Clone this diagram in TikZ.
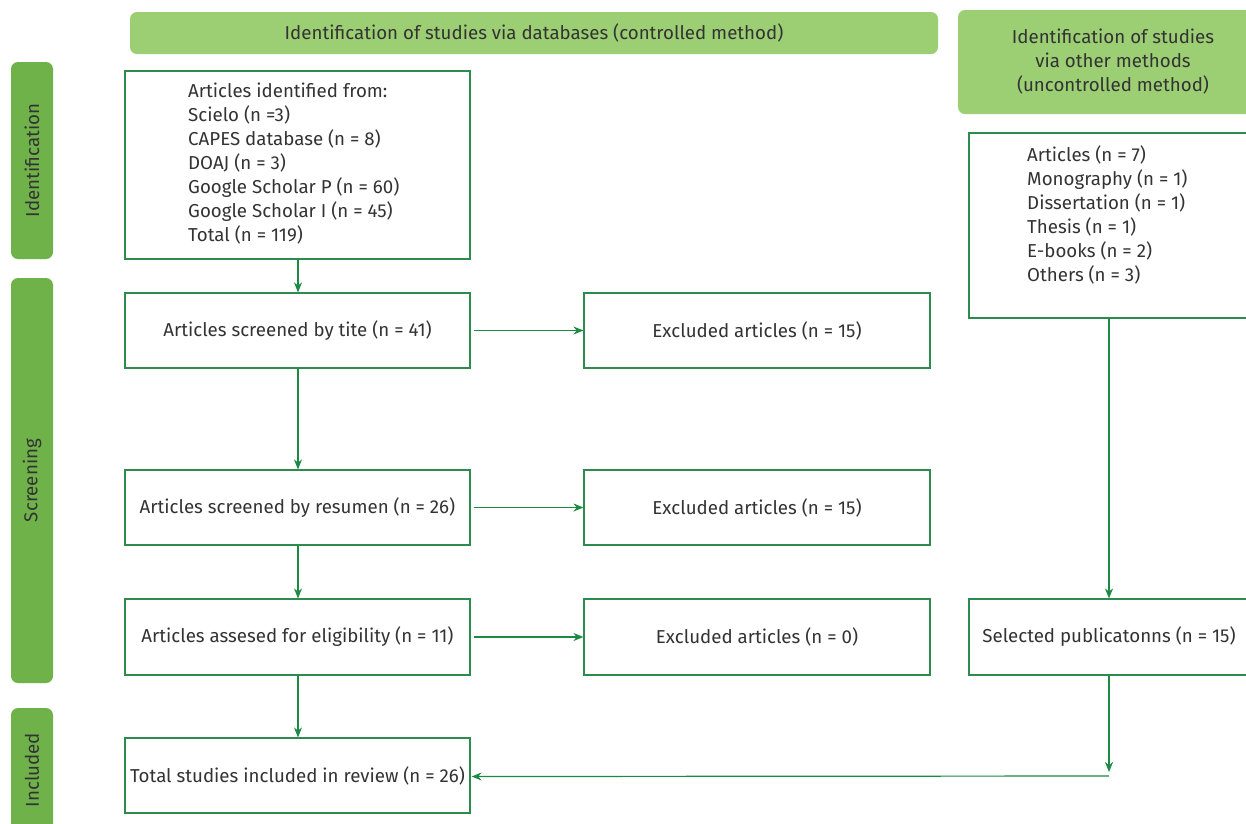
\documentclass[tikz,border=0pt]{standalone}
\usepackage{fontspec}
\setmainfont{Fira Sans}
\usetikzlibrary{arrows.meta}
\definecolor{banner}{HTML}{9CCF74}
\definecolor{sidebar}{HTML}{6FB24A}
\definecolor{edge}{HTML}{2E8B4E}
\definecolor{arrowc}{HTML}{1B8A42}
\definecolor{txt}{HTML}{333333}
\newcommand\myfont{\fontsize{18.7}{24}\selectfont}
\tikzset{
  box/.style={draw=edge, line width=1.2pt, fill=white, inner sep=0pt, text=txt, align=center, font=\myfont},
  bannerbox/.style={fill=banner, rounded corners=7pt, inner sep=0pt, text=txt, align=center, font=\myfont},
  sidebox/.style={fill=sidebar, rounded corners=7pt, inner sep=0pt, text=txt, font=\myfont},
  conn/.style={draw=arrowc, line width=1.2pt, -{Stealth[length=10pt,width=8pt]}},
  plain/.style={text=txt, inner sep=0pt, font=\myfont},
}
\begin{document}
\begin{tikzpicture}[x=1pt,y=-1pt]
\clip (0,0) rectangle (1246,823);
\fill[white] (0,0) rectangle (1246,823);
% banners
\node[bannerbox, minimum width=808, minimum height=42] (b1) at (534,33) {Identification of studies via databases (controlled method)};
\node[bannerbox, minimum width=310, minimum height=104] (b2) at (1113,62) {Identification of studies\\via other methods\\(uncontrolled method)};
% side bars
\node[sidebox, minimum width=197, minimum height=42, rotate=90] (s1) at (32,160.5) {Identification};
\node[sidebox, minimum width=405, minimum height=42, rotate=90] (s2) at (32,480.5) {Screening};
\node[sidebox, minimum width=124, minimum height=42, rotate=90] (s3) at (32,770) {Included};
% left column
\node[box, minimum width=345, minimum height=188] (id) at (297.5,165) {};
\node[plain, align=left, anchor=north west] (idtext) at (188,83) {Articles identified from:\\Scielo (n =3)\\CAPES database (n = 8)\\DOAJ (n = 3)\\Google Scholar P (n = 60)\\Google Scholar I (n = 45)\\Total (n = 119)};
\node[box, minimum width=345, minimum height=75] (scr1) at (297.5,330.5) {Articles screened by tite (n = 41)};
\node[box, minimum width=345, minimum height=75] (scr2) at (297.5,507.5) {Articles screened by resumen (n = 26)};
\node[box, minimum width=345, minimum height=76] (elig) at (297.5,637) {Articles assesed for eligibility (n = 11)};
\node[box, minimum width=345, minimum height=75] (tot) at (297.5,775.5) {Total studies included in review (n = 26)};
% excluded
\node[box, minimum width=346, minimum height=75] (ex1) at (757,330.5) {Excluded articles (n = 15)};
\node[box, minimum width=346, minimum height=75] (ex2) at (757,507.5) {Excluded articles (n = 15)};
\node[box, minimum width=346, minimum height=76] (ex3) at (757,637) {Excluded articles (n = 0)};
% right column
\node[box, minimum width=300, minimum height=185] (oth) at (1119,225.5) {};
\node[plain, align=left, anchor=north west] (othtext) at (1027,145) {Articles (n = 7)\\Monography (n = 1)\\Dissertation (n = 1)\\Thesis (n = 1)\\E-books (n = 2)\\Others (n = 3)};
\node[box, minimum width=300, minimum height=76] (sel) at (1119,637) {};
\node[plain] (seltext) at (1109,637) {Selected publicatonns (n = 15)};
\coordinate (c1) at (1109,772);
\coordinate (c2) at (1109,776);
% connectors
\draw[conn] (id.south -| 298,0) -- (scr1.north -| 298,0);
\draw[conn] (scr1.south -| 298,0) -- (scr2.north -| 298,0);
\draw[conn] (scr2.south -| 298,0) -- (elig.north -| 298,0);
\draw[conn] (elig.south -| 298,0) -- (tot.north -| 298,0);
\draw[conn] ([xshift=3pt]scr1.east) -- (ex1.west);
\draw[conn] ([xshift=3pt]scr2.east) -- (ex2.west);
\draw[conn] ([xshift=3pt]elig.east) -- (ex3.west);
\draw[conn] (oth.south -| 1109,0) -- (sel.north -| 1109,0);
\draw[conn] (sel.south -| 1109,0) -- (c1);
\draw[conn] (c2) -- ([xshift=1pt,yshift=-1pt]tot.east);
\end{tikzpicture}
\end{document}
